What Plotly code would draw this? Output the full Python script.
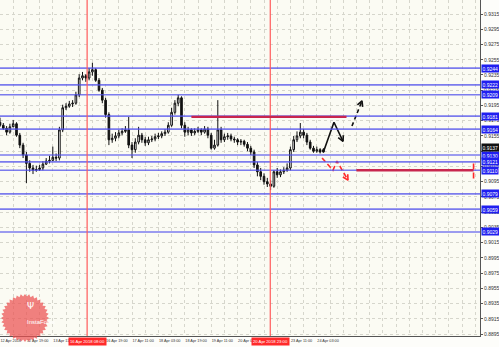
import math
import plotly.graph_objects as go

# ---------------- data ----------------
# hourly bar index (every second hour shown as one candle)
bar_idx = [0, 2, 4, 6, 8, 10, 12, 14, 16, 18, 20, 22, 24, 26, 28, 30, 32, 34, 36, 38,
           40, 42, 44, 46, 48, 50, 52, 54, 56, 58, 60, 62, 64, 66, 68, 70, 72, 74, 76, 78,
           80, 82, 84, 86, 88, 90, 92, 94, 96, 98, 100, 102, 104, 106, 108, 110, 112, 114, 116, 118,
           120, 122, 124, 126, 128, 130, 132, 134, 136, 138, 140, 142, 144, 146, 148, 150, 152, 154, 156, 158,
           160, 162, 164, 166, 168, 170, 172, 174, 176, 178, 180, 182, 184, 186, 188, 190, 192, 194, 196]

close_p = [0.9169, 0.9165, 0.9160, 0.9167, 0.9171, 0.9156, 0.9143, 0.9130, 0.9119, 0.9113,
           0.9110, 0.9111, 0.9113, 0.9118, 0.9122, 0.9123, 0.9127, 0.9126, 0.9163, 0.9192,
           0.9194, 0.9197, 0.9198, 0.9209, 0.9231, 0.9234, 0.9231, 0.9239, 0.9242, 0.9228,
           0.9215, 0.9202, 0.9183, 0.9150, 0.9152, 0.9155, 0.9159, 0.9161, 0.9163, 0.9143,
           0.9137, 0.9147, 0.9156, 0.9150, 0.9146, 0.9150, 0.9151, 0.9154, 0.9155, 0.9158,
           0.9160, 0.9169, 0.9186, 0.9198, 0.9205, 0.9169, 0.9160, 0.9163, 0.9159, 0.9161,
           0.9163, 0.9160, 0.9164, 0.9156, 0.9139, 0.9143, 0.9163, 0.9150, 0.9154, 0.9155,
           0.9151, 0.9150, 0.9147, 0.9148, 0.9144, 0.9139, 0.9134, 0.9117, 0.9108, 0.9102,
           0.9095, 0.9092, 0.9089, 0.9108, 0.9104, 0.9108, 0.9110, 0.9113, 0.9137, 0.9150,
           0.9155, 0.9160, 0.9156, 0.9147, 0.9139, 0.9135, 0.9137, 0.9134, 0.9137]

open_p = [0.9173, 0.9169, 0.9165, 0.9160, 0.9167, 0.9171, 0.9156, 0.9143, 0.9130, 0.9119,
          0.9113, 0.9110, 0.9111, 0.9113, 0.9118, 0.9122, 0.9123, 0.9127, 0.9126, 0.9163,
          0.9192, 0.9194, 0.9197, 0.9198, 0.9209, 0.9231, 0.9234, 0.9231, 0.9239, 0.9242,
          0.9228, 0.9215, 0.9202, 0.9183, 0.9150, 0.9152, 0.9155, 0.9159, 0.9161, 0.9163,
          0.9143, 0.9137, 0.9147, 0.9156, 0.9150, 0.9146, 0.9150, 0.9151, 0.9154, 0.9155,
          0.9158, 0.9160, 0.9169, 0.9186, 0.9198, 0.9205, 0.9169, 0.9160, 0.9163, 0.9159,
          0.9161, 0.9163, 0.9160, 0.9164, 0.9156, 0.9139, 0.9143, 0.9163, 0.9150, 0.9154,
          0.9155, 0.9151, 0.9150, 0.9147, 0.9148, 0.9144, 0.9139, 0.9134, 0.9117, 0.9108,
          0.9102, 0.9095, 0.9092, 0.9089, 0.9108, 0.9104, 0.9108, 0.9110, 0.9113, 0.9137,
          0.9150, 0.9155, 0.9160, 0.9156, 0.9147, 0.9139, 0.9135, 0.9137, 0.9134]

high_p = [0.9179, 0.9172, 0.9168, 0.9171, 0.9176, 0.9173, 0.9159, 0.9146, 0.9134, 0.9123,
          0.9117, 0.9116, 0.9117, 0.9122, 0.9126, 0.9129, 0.9141, 0.9132, 0.9167, 0.9196,
          0.9198, 0.9201, 0.9202, 0.9213, 0.9236, 0.9239, 0.9236, 0.9244, 0.9251, 0.9244,
          0.9231, 0.9218, 0.9205, 0.9186, 0.9158, 0.9160, 0.9163, 0.9165, 0.9168, 0.9180,
          0.9147, 0.9152, 0.9167, 0.9159, 0.9154, 0.9154, 0.9155, 0.9158, 0.9159, 0.9161,
          0.9164, 0.9173, 0.9192, 0.9202, 0.9209, 0.9207, 0.9173, 0.9167, 0.9165, 0.9165,
          0.9167, 0.9165, 0.9168, 0.9167, 0.9159, 0.9150, 0.9202, 0.9167, 0.9158, 0.9159,
          0.9158, 0.9154, 0.9152, 0.9151, 0.9150, 0.9147, 0.9142, 0.9137, 0.9121, 0.9113,
          0.9106, 0.9100, 0.9097, 0.9110, 0.9113, 0.9111, 0.9114, 0.9119, 0.9141, 0.9155,
          0.9161, 0.9172, 0.9164, 0.9159, 0.9150, 0.9142, 0.9141, 0.9139, 0.9139]

low_p = [0.9167, 0.9163, 0.9156, 0.9158, 0.9168, 0.9154, 0.9139, 0.9126, 0.9093, 0.9108,
         0.9105, 0.9108, 0.9109, 0.9110, 0.9117, 0.9119, 0.9122, 0.9122, 0.9123, 0.9160,
         0.9189, 0.9192, 0.9193, 0.9196, 0.9206, 0.9228, 0.9226, 0.9228, 0.9234, 0.9226,
         0.9213, 0.9198, 0.9179, 0.9143, 0.9146, 0.9148, 0.9152, 0.9156, 0.9159, 0.9139,
         0.9126, 0.9133, 0.9144, 0.9146, 0.9142, 0.9143, 0.9147, 0.9148, 0.9151, 0.9152,
         0.9155, 0.9158, 0.9167, 0.9183, 0.9194, 0.9165, 0.9154, 0.9156, 0.9155, 0.9156,
         0.9159, 0.9156, 0.9158, 0.9152, 0.9137, 0.9137, 0.9141, 0.9146, 0.9147, 0.9150,
         0.9148, 0.9146, 0.9143, 0.9143, 0.9141, 0.9135, 0.9130, 0.9113, 0.9102, 0.9097,
         0.9091, 0.9088, 0.9084, 0.9087, 0.9100, 0.9101, 0.9105, 0.9108, 0.9110, 0.9134,
         0.9147, 0.9152, 0.9152, 0.9143, 0.9137, 0.9133, 0.9133, 0.9132, 0.9133]

# horizontal support / resistance levels (blue)
level_prices = [0.9244, 0.9222, 0.9209, 0.9181, 0.9164, 0.9130, 0.9121, 0.9110, 0.9079, 0.9059, 0.9029]
current_price = 0.9137

# red target lines: (start bar, end bar, price)
red_levels = [(116, 210, 0.9180), (216, 287, 0.9110)]
red_mark = (287, 0.9119, 0.9096)

# vertical red lines (bar index) and their time labels
vlines_bar = [52.8, 163.8]
vlines_text = ["16 Apr 2018 08:00", "20 Apr 2018 23:00"]

# forecast arrows (bar index, price)
arrow_up_x = [196, 202.4, 207.9]
arrow_up_y = [0.9134, 0.9173, 0.9148]
arrow_up2_x = [213.3, 219.4]
arrow_up2_y = [0.9168, 0.9201]
arrow_dn_x = [195.2, 201.8, 204.2, 210.9]
arrow_dn_y = [0.9126, 0.9110, 0.9122, 0.9097]

# axis labels
time_tick_bars = [0, 16, 32, 64, 80, 96, 112, 128, 144, 176, 192]
time_tick_text = ["12 Apr 2018", "12 Apr 19:00", "13 Apr 11:00", "16 Apr 19:00", "17 Apr 11:00",
                  "18 Apr 03:00", "18 Apr 19:00", "19 Apr 11:00", "20 Apr 03:00", "23 Apr 11:00",
                  "24 Apr 03:00"]
price_ticks = [0.9315, 0.9295, 0.9275, 0.9255, 0.9235, 0.9215, 0.9195, 0.9175, 0.9155, 0.9135,
               0.9115, 0.9095, 0.9075, 0.9055, 0.9035, 0.9015, 0.8995, 0.8975, 0.8955, 0.8935,
               0.8915, 0.8895]

# ---------------- layout geometry ----------------
W, H = 499, 347
ML, MR, MT, MB = 0, 19, 0, 11
PW, PH = W - ML - MR, H - MT - MB
XMAX = PW / 1.65
YMIN, YMAX = 0.88925, 0.93334


def to_px(x, y):
    return x / XMAX * PW, (y - YMIN) / (YMAX - YMIN) * PH


def from_px(px, py):
    return px / PW * XMAX, py / PH * (YMAX - YMIN) + YMIN


def head(xs, ys, L=6, ang=28):
    x0, y0 = to_px(xs[-2], ys[-2])
    x1, y1 = to_px(xs[-1], ys[-1])
    a = math.atan2(y1 - y0, x1 - x0)
    pts = []
    for s in (1, -1):
        b = a + math.pi + s * math.radians(ang)
        pts.append(from_px(x1 + L * math.cos(b), y1 + L * math.sin(b)))
    return [pts[0][0], xs[-1], pts[1][0]], [pts[0][1], ys[-1], pts[1][1]]


fig = go.Figure()

fig.add_trace(go.Candlestick(
    x=bar_idx, open=open_p, high=high_p, low=low_p, close=close_p,
    increasing=dict(line=dict(color="#111111", width=1), fillcolor="#ffffff"),
    decreasing=dict(line=dict(color="#111111", width=1), fillcolor="#111111"),
    whiskerwidth=0, showlegend=False, hoverinfo="skip"))

# arrows
hx, hy = head(arrow_up_x, arrow_up_y)
fig.add_trace(go.Scatter(x=arrow_up_x, y=arrow_up_y, mode="lines",
                         line=dict(color="#111111", width=1.6), showlegend=False))
fig.add_trace(go.Scatter(x=hx, y=hy, mode="lines",
                         line=dict(color="#111111", width=1.6), showlegend=False))
hx, hy = head(arrow_up2_x, arrow_up2_y)
fig.add_trace(go.Scatter(x=arrow_up2_x, y=arrow_up2_y, mode="lines",
                         line=dict(color="#111111", width=1.6, dash="4px,3px"), showlegend=False))
fig.add_trace(go.Scatter(x=hx, y=hy, mode="lines",
                         line=dict(color="#111111", width=1.6), showlegend=False))
hx, hy = head(arrow_dn_x, arrow_dn_y)
fig.add_trace(go.Scatter(x=arrow_dn_x, y=arrow_dn_y, mode="lines",
                         line=dict(color="#ff2a2a", width=1.6, dash="5px,3px"), showlegend=False))
fig.add_trace(go.Scatter(x=hx, y=hy, mode="lines",
                         line=dict(color="#ff2a2a", width=1.6), showlegend=False))

shapes = []
for p in level_prices:
    shapes.append(dict(type="line", xref="paper", x0=0, x1=1, yref="y", y0=p, y1=p,
                       line=dict(color="rgba(80,80,235,0.75)", width=1.6), layer="above"))
for xb in vlines_bar:
    shapes.append(dict(type="line", xref="x", x0=xb, x1=xb, yref="paper", y0=0, y1=1,
                       line=dict(color="#ff5a5a", width=1.2), layer="above"))
for x0, x1, p in red_levels:
    shapes.append(dict(type="line", xref="x", x0=x0, x1=x1, yref="y", y0=p, y1=p,
                       line=dict(color="#c8264e", width=2.4), layer="above"))
shapes.append(dict(type="line", xref="x", x0=red_mark[0], x1=red_mark[0], yref="y",
                   y0=red_mark[1], y1=red_mark[2],
                   line=dict(color="#ff2a2a", width=1.6, dash="6px,3px"), layer="above"))

# InstaForex watermark (sunburst)
cx, cy, r1, r2, n = 25, 18, 24, 21.5, 36
pts = []
for k in range(2 * n):
    r = r1 if k % 2 == 0 else r2
    t = math.pi * k / n
    pts.append(((cx + r * math.cos(t)) / PW, (cy + r * math.sin(t)) / PH))
path = "M " + " L ".join(f"{a:.5f},{b:.5f}" for a, b in pts) + " Z"
shapes.append(dict(type="path", xref="paper", yref="paper", path=path,
                   fillcolor="rgba(236,80,80,0.72)", line=dict(width=0), layer="above"))

annotations = []
annotations.append(dict(xref="paper", yref="paper", x=cx / PW, y=(cy - 9) / PH, text="InstaForex",
                        showarrow=False, font=dict(family="Liberation Sans", size=6, color="white")))
annotations.append(dict(xref="paper", yref="paper", x=cx / PW, y=(cy + 5) / PH, text="Ψ",
                        showarrow=False, font=dict(family="DejaVu Sans", size=9, color="white")))
for p in level_prices:
    annotations.append(dict(xref="paper", x=1.0, xanchor="left", yref="y", y=p, text=f"{p:.4f}",
                            showarrow=False, bgcolor="#1f1ff0", borderpad=0.5, xshift=1,
                            font=dict(family="Liberation Sans", size=5, color="white")))
annotations.append(dict(xref="paper", x=1.0, xanchor="left", yref="y", y=current_price,
                        text=f"{current_price:.4f}", showarrow=False, bgcolor="#111111",
                        borderpad=0.5, xshift=1, yshift=2,
                        font=dict(family="Liberation Sans", size=5, color="white")))
for xb, t in zip(vlines_bar, vlines_text):
    annotations.append(dict(xref="x", x=xb, yref="paper", y=0, yanchor="top", text=t,
                            showarrow=False, bgcolor="#ff2a2a", borderpad=1, yshift=-1,
                            font=dict(family="Liberation Sans", size=4.2, color="white")))

grid_vals = list(range(0, 296, 8))
tick_map = dict(zip(time_tick_bars, time_tick_text))
grid_text = [tick_map.get(v, "") for v in grid_vals]

fig.update_layout(
    width=W, height=H,
    margin=dict(l=ML, r=MR, t=MT, b=MB),
    paper_bgcolor="#fdfdfa", plot_bgcolor="#fbfbf3",
    shapes=shapes, annotations=annotations,
    showlegend=False,
    xaxis=dict(range=[0, XMAX], tickvals=grid_vals, ticktext=grid_text, tickangle=0,
               ticklabelposition="outside right", ticks="", ticklen=0,
               showgrid=True, gridcolor="#d6d6cc", griddash="dot", gridwidth=1,
               zeroline=False, showline=True, linecolor="#555555", linewidth=1,
               rangeslider=dict(visible=False), fixedrange=True, automargin=False,
               tickfont=dict(family="Liberation Sans", size=3.8, color="#333333")),
    yaxis=dict(range=[YMIN, YMAX], side="right", tickvals=price_ticks,
               ticktext=[f"{v:.4f}" for v in price_ticks], ticks="outside", ticklen=2,
               tickcolor="#555555", automargin=False,
               showgrid=True, gridcolor="#d6d6cc", griddash="dot", gridwidth=1,
               zeroline=False, showline=True, linecolor="#555555", linewidth=1,
               tickfont=dict(family="Liberation Sans", size=5, color="#333333")),
)

fig.write_html("out.html")
